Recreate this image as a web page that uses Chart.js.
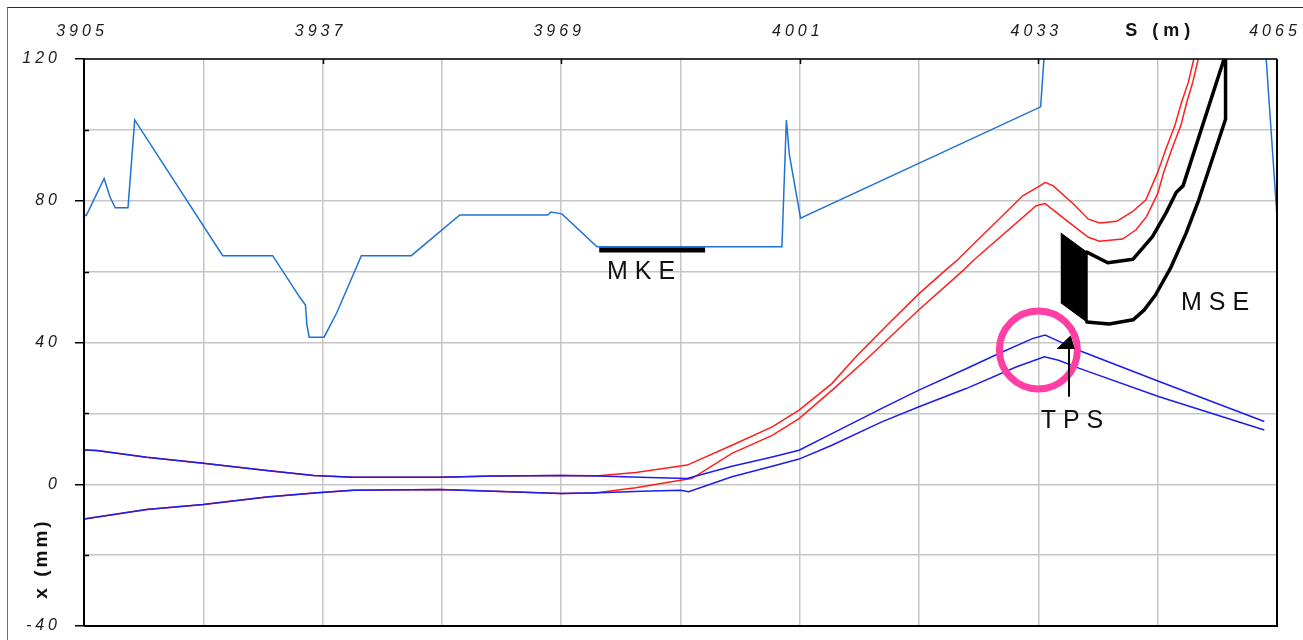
<!DOCTYPE html>
<html>
<head>
<meta charset="utf-8">
<script src="https://cdn.jsdelivr.net/npm/chart.js"></script>
<style>
  html, body { margin: 0; padding: 0; background: #fff; overflow: hidden; }
  #wrap { position: relative; width: 1303px; height: 640px; }
  #frame { position: absolute; left: 7px; top: 7px; width: 1400px; height: 700px;
           border-top: 1px solid #24248a; border-left: 1px solid #6262c2; pointer-events: none; }
  canvas { position: absolute; left: 0; top: 0; }
</style>
</head>
<body>
<div id="wrap">
  <canvas id="c" width="1303" height="640"></canvas>
  <div id="frame"></div>
</div>
<script>
// Axis ticks (S in metres along the ring, x in mm)
const sGrid   = [3905, 3921, 3937, 3953, 3969, 3985, 4001, 4017, 4033, 4049, 4065];
const sLabels = [3905, 3937, 3969, 4001, 4033, 4065];
const xGrid   = [-40, -20, 0, 20, 40, 60, 80, 100, 120];
const xLabels = [-40, 0, 40, 80, 120];

// Vacuum chamber aperture
const apertureS = [3905, 3905.3, 3907.7, 3908.5, 3909.2, 3910.9, 3911.8, 3923.6, 3930.3, 3933.9,
                   3934.7, 3934.9, 3935.2, 3937.2, 3938.9, 3942.2, 3948.9, 3955.4, 3967.2, 3967.6,
                   3969.1, 3973.8, 3998.6, 3999.2, 3999.6, 4001.1, 4033.3, 4034.4, 4062.9, 4065];
const apertureX = [76.0, 75.8, 86.3, 81.0, 78.0, 78.0, 102.8, 64.5, 64.5, 52.9,
                   50.6, 44.9, 41.5, 41.5, 48.4, 64.5, 64.5, 76.0, 76.0, 76.8,
                   76.3, 67.0, 67.0, 102.8, 93.0, 75.1, 106.5, 140, 140, 75.5];

// Circulating beam envelope
const circUpperS = [3905, 3906.7, 3913.4, 3921, 3929.5, 3935.8, 3941.1, 3952.7, 3960, 3969, 3974,
                    3980.8, 3985.9, 3991.9, 3997.3, 4000.9, 4005.3, 4012, 4016.9, 4023.3, 4027.7,
                    4032.2, 4033.9, 4035.7, 4038.9, 4049.2, 4063.3];
const circUpperX = [9.7, 9.5, 7.6, 5.9, 3.9, 2.5, 2.0, 2.0, 2.3, 2.5, 2.3,
                    1.9, 1.6, 5.1, 7.7, 9.6, 14.3, 21.4, 26.5, 32.6, 36.9,
                    41.1, 42.1, 40.4, 37.4, 29.0, 17.7];
const circLowerS = [3905, 3913.4, 3921, 3929.5, 3936.3, 3941.1, 3952.7, 3960, 3969, 3974,
                    3979.8, 3985, 3986.1, 3991.9, 3997.3, 4000.9, 4005.3, 4012, 4016.9, 4023.3,
                    4030, 4033.8, 4035.7, 4038.5, 4049.2, 4063.3];
const circLowerX = [-9.8, -7.1, -5.7, -3.6, -2.4, -1.7, -1.5, -2.0, -2.6, -2.4,
                    -2.0, -1.7, -2.1, 2.1, 5.1, 7.1, 11.0, 17.6, 21.8, 27.0,
                    33.1, 36.0, 35.0, 32.7, 24.7, 15.3];

// Extracted beam envelope
const extUpperS = [3905, 3906.7, 3913.4, 3921, 3929.5, 3935.8, 3941.1, 3952.7, 3960, 3969, 3974,
                   3979, 3985.9, 3991.9, 3997.3, 4000.9, 4005.3, 4008.5, 4012.9, 4017, 4020.7,
                   4022.1, 4030.9, 4033.2, 4033.9, 4035, 4037.7, 4039.7, 4041.2, 4043.5, 4045.6,
                   4047.4, 4049.0, 4050.1, 4051.3, 4052.2, 4053.1, 4054.0];
const extUpperX = [9.7, 9.5, 7.6, 5.9, 3.9, 2.5, 2.0, 2.0, 2.3, 2.5, 2.4,
                   3.3, 5.4, 11.0, 16.2, 20.9, 28.4, 35.9, 45.3, 53.8, 60.7,
                   63.2, 81.4, 84.2, 85.2, 84.2, 79.1, 74.8, 73.7, 74.2, 76.9,
                   80.2, 88.0, 94.6, 101.2, 107.8, 113.4, 121.4];
const extLowerS = [3905, 3913.4, 3921, 3929.5, 3936.3, 3941.1, 3952.7, 3960, 3969, 3973.5,
                   3979, 3985, 3986.5, 3991.9, 3997.3, 4000.9, 4005.3, 4009.8, 4016.9, 4023.1,
                   4024.3, 4032.7, 4033.9, 4036.8, 4039.7, 4041.2, 4044.3, 4046.1, 4047.5, 4049.0,
                   4049.8, 4050.9, 4052.1, 4052.9, 4053.7, 4054.6];
const extLowerX = [-9.8, -7.1, -5.7, -3.6, -2.4, -1.7, -1.5, -2.0, -2.6, -2.5,
                   -1.0, 1.1, 1.6, 8.7, 13.8, 18.5, 26.5, 35.0, 49.1, 60.7,
                   63.2, 78.6, 79.2, 74.4, 69.7, 68.6, 69.2, 71.8, 75.5, 82.0,
                   88.0, 94.6, 101.2, 107.8, 113.4, 121.4];

// MSE septum: blade and magnet outline
const mseBladeS = [4036.0, 4039.5, 4039.5, 4036.0];
const mseBladeX = [70.9, 65.5, 45.8, 51.2];
const mseOutlineS = [4039.5, 4042.3, 4045.7, 4048.3, 4050.1, 4051.5, 4052.4, 4057.9, 4058.1, 4058.1,
                     4054.5, 4052.8, 4050.7, 4048.7, 4047.2, 4045.7, 4042.5, 4039.5];
const mseOutlineX = [65.5, 62.5, 63.5, 69.9, 76.5, 82.4, 84.2, 120, 120, 103,
                     80.2, 70.8, 60.9, 53.4, 49.2, 46.4, 45.2, 45.8];

// MKE kicker
const mkeS = [3974.1, 3988.3];
const mkeX = [66.1, 66.1];

// TPS marker: circle centre, arrow shaft and head
const tpsCircleS = [4033.0];
const tpsCircleX = [37.9];
const tpsShaftS = [4037.1, 4037.1];
const tpsShaftX = [24.7, 39.8];
const tpsHeadS = [4035.5, 4037.3, 4037.8];
const tpsHeadX = [38.2, 41.8, 38.2];

// Text placed in data coordinates
const tags = [
  { text: 'MKE', s: 3979.7, x: 59.9 },
  { text: 'MSE', s: 4056.7, x: 51.0 },
  { text: 'TPS', s: 4037.5, x: 17.9 }
];

const pts = (s, x) => s.map((v, i) => ({ x: v, y: x[i] }));

const FONT = "'Liberation Sans', Arial, sans-serif";
Chart.defaults.font.family = FONT;

const line = (data, color, width, order, extra) => Object.assign({
  data, borderColor: color, borderWidth: width, pointRadius: 0, fill: false,
  tension: 0, order
}, extra || {});

const noPad = s => { s.paddingLeft = 0; s.paddingRight = 0; s.paddingTop = 0; s.paddingBottom = 0; };

const decorations = {
  id: 'decorations',
  beforeDraw(chart) {
    chart.ctx.letterSpacing = '4px';
  },
  afterDraw(chart) {
    const { ctx, chartArea: a, scales: { x, y } } = chart;
    ctx.save();
    ctx.letterSpacing = '0px';
    // plot frame
    ctx.strokeStyle = '#000';
    ctx.lineWidth = 2;
    ctx.beginPath();
    ctx.moveTo(a.left, a.bottom); ctx.lineTo(a.left, a.top);
    ctx.moveTo(a.right, a.top); ctx.lineTo(a.right, a.bottom);
    ctx.lineTo(a.left, a.bottom);
    ctx.stroke();
    ctx.lineWidth = 1.5;
    ctx.beginPath();
    ctx.moveTo(a.left, a.top); ctx.lineTo(a.right, a.top);
    ctx.stroke();
    // short inner ticks
    ctx.beginPath();
    sLabels.forEach(v => {
      if (v === sGrid[0] || v === sGrid[sGrid.length - 1]) return;
      const px = Math.round(x.getPixelForValue(v)) + 0.5;
      ctx.moveTo(px, a.top); ctx.lineTo(px, a.top + 5);
    });
    xGrid.forEach(v => {
      if (xLabels.includes(v)) return;
      const py = Math.round(y.getPixelForValue(v)) + 0.5;
      ctx.moveTo(a.left, py); ctx.lineTo(a.left + 5, py);
    });
    ctx.stroke();

    // element names
    ctx.fillStyle = '#111';
    ctx.textAlign = 'center';
    ctx.textBaseline = 'middle';
    ctx.font = `25px ${FONT}`;
    ctx.letterSpacing = '7px';
    tags.forEach(t => {
      ctx.fillText(t.text, x.getPixelForValue(t.s) + 3.5, y.getPixelForValue(t.x));
    });

    // axis titles
    ctx.font = `bold 18px ${FONT}`;
    ctx.letterSpacing = '5px';
    ctx.fillText('S (m)', x.getPixelForValue(4049) + 2.5, 31);
    ctx.save();
    ctx.translate(42, 560);
    ctx.rotate(-Math.PI / 2);
    ctx.font = `bold 19px ${FONT}`;
    ctx.letterSpacing = '3px';
    ctx.fillText('x (mm)', 1.5, 0);
    ctx.restore();
    ctx.restore();
  }
};

new Chart(document.getElementById('c'), {
  type: 'line',
  data: {
    datasets: [
      line(pts(apertureS, apertureX), '#1f72d4', 1.5, 10),
      line(pts(extUpperS, extUpperX), '#ff1e1e', 1.5, 8),
      line(pts(extLowerS, extLowerX), '#ff1e1e', 1.5, 8),
      line(pts(circUpperS, circUpperX), '#1c1cf0', 1.5, 6),
      line(pts(circLowerS, circLowerX), '#1c1cf0', 1.5, 6),
      line(pts(mseBladeS, mseBladeX), '#000', 1, 5, { fill: 'shape', backgroundColor: '#000' }),
      line(pts(mseOutlineS, mseOutlineX), '#000', 3.5, 5, { borderJoinStyle: 'round', borderCapStyle: 'round' }),
      line(pts(mkeS, mkeX), '#000', 5, 5, { borderCapStyle: 'butt' }),
      line(pts(tpsCircleS, tpsCircleX), 'transparent', 0, 2, {
        showLine: false, pointRadius: 39, pointBorderWidth: 7,
        pointBorderColor: '#ff3fa3', pointBackgroundColor: 'transparent', pointHoverRadius: 39
      }),
      line(pts(tpsShaftS, tpsShaftX), '#000', 2, 1),
      line(pts(tpsHeadS, tpsHeadX), '#000', 1, 1, { fill: 'shape', backgroundColor: '#000' })
    ]
  },
  options: {
    responsive: false,
    devicePixelRatio: 1,
    animation: false,
    events: [],
    layout: { autoPadding: false, padding: { left: 0, top: 0, right: 26, bottom: 14 } },
    plugins: { legend: { display: false }, tooltip: { enabled: false } },
    scales: {
      x: {
        type: 'linear',
        position: 'top',
        min: 3905, max: 4065,
        afterBuildTicks: s => { s.ticks = sGrid.map(v => ({ value: v })); },
        afterFit: s => { s.height = 59; noPad(s); },
        grid: { color: '#c6c6c6', lineWidth: 1.5, drawTicks: false },
        border: { display: false },
        ticks: {
          autoSkip: false, maxRotation: 0, padding: 18, labelOffset: -2,
          color: '#1a1a1a',
          font: { size: 16, style: 'italic' },
          callback: v => sLabels.includes(v) ? String(v) : ''
        }
      },
      y: {
        type: 'linear',
        position: 'left',
        min: -40, max: 120,
        afterBuildTicks: s => { s.ticks = xGrid.map(v => ({ value: v })); },
        afterFit: s => { s.width = 84; noPad(s); },
        grid: {
          color: '#c6c6c6', lineWidth: 1.5, drawTicks: true, tickLength: 9, tickWidth: 1.5,
          tickColor: c => xLabels.includes(c.tick && c.tick.value) ? '#000' : 'rgba(0,0,0,0)'
        },
        border: { display: false },
        ticks: {
          autoSkip: false, padding: 14,
          color: '#1a1a1a',
          font: { size: 16, style: 'italic' },
          callback: v => xLabels.includes(v) ? String(v) : ''
        }
      }
    }
  },
  plugins: [decorations]
});
</script>
</body>
</html>
